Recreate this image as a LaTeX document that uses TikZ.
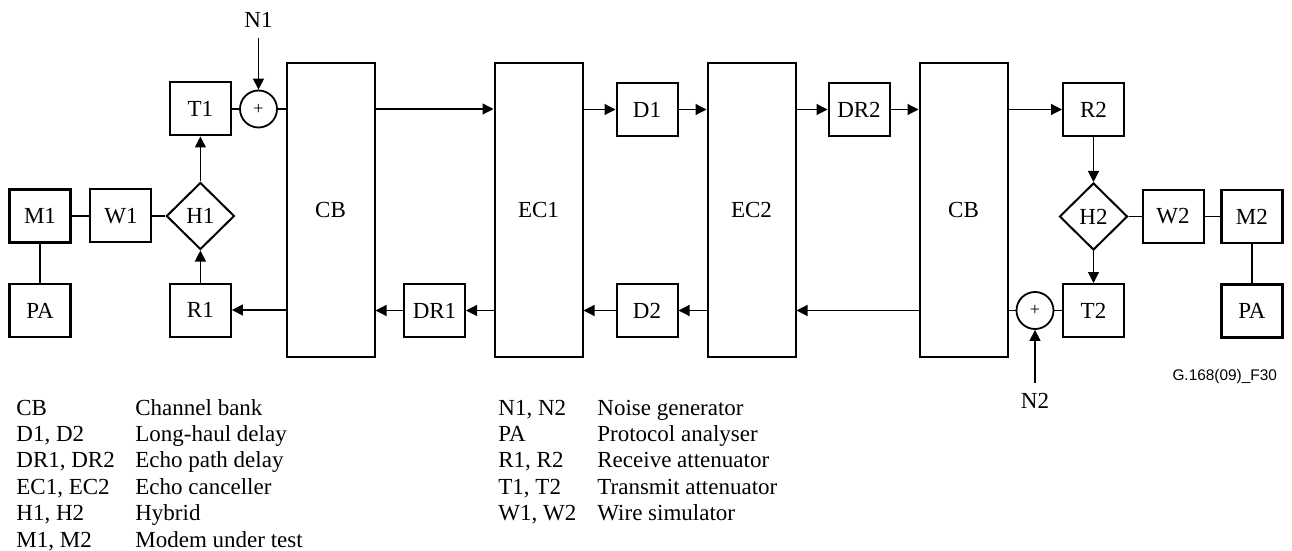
\documentclass[tikz,border=0pt]{standalone}
\usepackage{fontspec}
\setmainfont{Liberation Serif}
\newfontfamily\figsans{Liberation Sans}
\usetikzlibrary{arrows.meta,positioning,calc,shapes.geometric}
\newcommand{\figfont}{\fontsize{11.5}{13.25}\selectfont}

\begin{document}
\begin{tikzpicture}[
  x=0.5pt,y=-0.5pt,
  font=\figfont,
  unit/.style={draw,line width=1pt,minimum width=30.5pt,minimum height=26.5pt,inner sep=0pt},
  term/.style={unit,line width=1.3pt},
  bank/.style={draw,line width=1pt,minimum width=44pt,minimum height=147pt,inner sep=0pt},
  hybrid/.style={draw,diamond,line width=1pt,minimum width=34pt,minimum height=33.5pt,inner sep=0pt},
  adder/.style={draw,circle,line width=0.9pt,minimum size=18.5pt,inner sep=0pt,
    font=\fontsize{9}{10}\selectfont},
  noise/.style={inner sep=5pt},
  sig/.style={-{Triangle[length=5.5pt,width=5.5pt]},line width=0.6pt},
  wire/.style={line width=0.6pt}
]
\useasboundingbox (0,0) rectangle (1292,551);

% left station
\node[term] (m1) at (40,216) {M1};
\node[unit] (w1) [right=8.8pt of m1] {W1};
\node[hybrid] (h1) [right=6.5pt of w1] {H1};
\node[term] (pa1) [below=19.5pt of m1] {PA};
\node[unit] (t1) [above=22.5pt of h1] {T1};
\node[unit] (r1) [below=16pt of h1] {R1};
\node[adder] (add1) [right=3.6pt of t1] {+};
\node[noise] (n1) [above=26pt of add1] {N1};

% channel banks and echo cancellers
\node[bank] (cb1) at (330.5,210) {CB};
\node[bank] (ec1) [right=59pt of cb1] {EC1};
\node[bank] (ec2) [right=61.5pt of ec1] {EC2};
\node[bank] (cb2) [right=61pt of ec2] {CB};

% delays
\node[unit] (d1) at (647,109.5) {D1};
\node[unit] (dr2) at (859,109.5) {DR2};
\node[unit] (dr1) at (434.5,310.5) {DR1};
\node[unit] (d2) at (647,310.5) {D2};

% right station
\node[unit] (r2) at (1093.5,109.5) {R2};
\node[hybrid] (h2) [below=22.5pt of r2] {H2};
\node[unit] (t2) [below=16pt of h2] {T2};
\node[unit] (w2) [right=6.5pt of h2] {W2};
\node[term] (m2) [right=7.8pt of w2] {M2};
\node[term] (pa2) [below=19.5pt of m2] {PA};
\node[adder] (add2) [left=3.8pt of t2] {+};
\node[noise] (n2) [below=26.5pt of add2] {N2};

% left side connections
\draw[wire] (m1) -- (w1);
\draw[wire] (w1) -- (h1);
\draw[wire] (m1) -- (pa1);
\draw[sig] (h1) -- (t1);
\draw[sig] (r1) -- (h1);
\draw[wire] (t1) -- (add1);
\draw[wire] (add1) -- (add1 -| cb1.west);
\draw[sig] (n1) -- (add1);
\draw[sig] (cb1.west |- r1) -- (r1);

% transmit path
\draw[sig] (cb1.east |- t1) -- (ec1.west |- t1);
\draw[sig] (ec1.east |- d1) -- (d1);
\draw[sig] (d1) -- (ec2.west |- d1);
\draw[sig] (ec2.east |- dr2) -- (dr2);
\draw[sig] (dr2) -- (cb2.west |- dr2);
\draw[sig] (cb2.east |- r2) -- (r2);

% right side connections
\draw[sig] (r2) -- (h2);
\draw[sig] (h2) -- (t2);
\draw[wire] (h2) -- (w2);
\draw[wire] (w2) -- (m2);
\draw[wire] (m2) -- (pa2);
\draw[wire] (t2) -- (add2);
\draw[wire] (add2) -- (add2 -| cb2.east);
\draw[sig] (n2) -- (add2);

% return path
\draw[sig] (cb2.west |- t2) -- (ec2.east |- t2);
\draw[sig] (ec2.west |- d2) -- (d2);
\draw[sig] (d2) -- (ec1.east |- d2);
\draw[sig] (ec1.west |- dr1) -- (dr1);
\draw[sig] (dr1) -- (cb1.east |- dr1);

\node[anchor=east,font=\figsans\fontsize{7.7}{9}\selectfont] (figid) at (1284,377) {G.168(09)\_F30};

% key
\node[anchor=base west,inner sep=0pt,align=left] (keyl) at (16,415) {%
  \begin{tabular}[t]{@{}p{59.5pt}@{}l@{}}
  CB & Channel bank\\
  D1, D2 & Long-haul delay\\
  DR1, DR2 & Echo path delay\\
  EC1, EC2 & Echo canceller\\
  H1, H2 & Hybrid\\
  M1, M2 & Modem under test
  \end{tabular}};
\node[anchor=base west,inner sep=0pt,align=left] (keyr) at (498,415) {%
  \begin{tabular}[t]{@{}p{49.5pt}@{}l@{}}
  N1, N2 & Noise generator\\
  PA & Protocol analyser\\
  R1, R2 & Receive attenuator\\
  T1, T2 & Transmit attenuator\\
  W1, W2 & Wire simulator
  \end{tabular}};
\end{tikzpicture}
\end{document}
